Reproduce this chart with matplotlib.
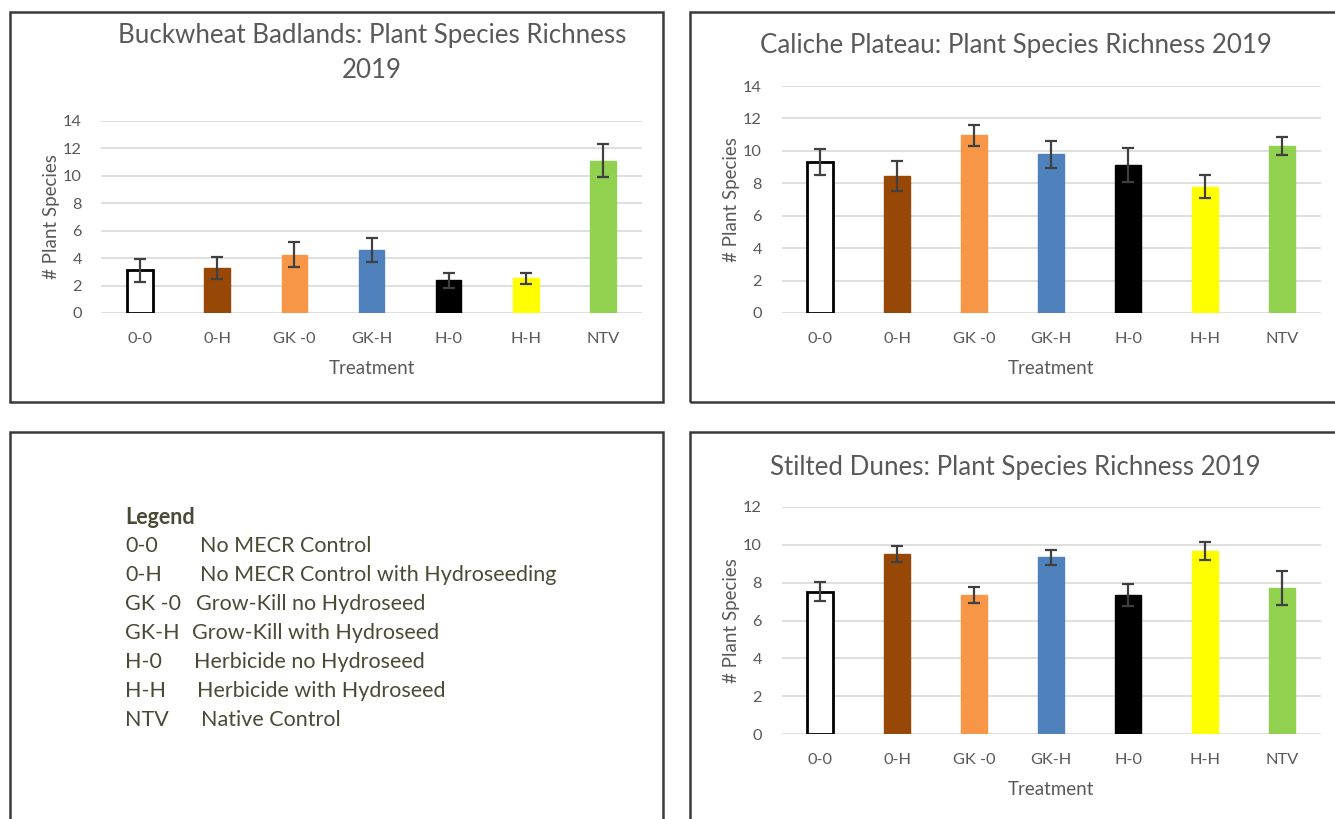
import matplotlib.pyplot as plt
from matplotlib.patches import Rectangle

plt.rcParams['font.family'] = ['Lato', 'DejaVu Sans']

treatments = ['0-0', '0-H', 'GK -0', 'GK-H', 'H-0', 'H-H', 'NTV']
bar_colors = ['white', '#974706', '#F79646', '#4F81BD', 'black', '#FFFF00', '#92D050']

# mean species richness and error per treatment
buckwheat_mean = [3.1, 3.25, 4.25, 4.6, 2.4, 2.55, 11.1]
buckwheat_err = [0.85, 0.8, 0.92, 0.9, 0.55, 0.4, 1.2]
caliche_mean = [9.3, 8.45, 10.95, 9.78, 9.1, 7.8, 10.3]
caliche_err = [0.8, 0.9, 0.63, 0.82, 1.05, 0.72, 0.57]
stilted_mean = [7.53, 9.5, 7.35, 9.35, 7.35, 9.68, 7.7]
stilted_err = [0.5, 0.42, 0.42, 0.39, 0.57, 0.47, 0.9]

legend_codes = ['0-0', '0-H', 'GK -0', 'GK-H', 'H-0', 'H-H', 'NTV']
legend_desc = ['No MECR Control', 'No MECR Control with Hydroseeding',
               'Grow-Kill no Hydroseed', 'Grow-Kill with Hydroseed',
               'Herbicide no Hydroseed', 'Herbicide with Hydroseed',
               'Native Control']

W, H = 1335, 819
fig = plt.figure(figsize=(W / 100, H / 100), dpi=100)

def px_box(x0, y0, x1, y1):
    fig.patches.append(Rectangle((x0 / W, 1 - y1 / H), (x1 - x0) / W, (y1 - y0) / H,
                                 transform=fig.transFigure, fill=False,
                                 edgecolor='#3a3a3a', linewidth=1.8))

# outer frames
px_box(10, 12, 663, 402)
px_box(690, 12, 1345, 402)
px_box(10, 432, 663, 830)
px_box(690, 432, 1345, 830)

gray = '#595959'

def panel(rect, means, errs, ymax, title, title_x, title_y):
    ax = fig.add_axes(rect)
    x = range(len(treatments))
    ax.bar(x, means, width=0.33, color=bar_colors, edgecolor=bar_colors, zorder=3)
    ax.bar([0], [means[0]], width=0.33, color='white', edgecolor='black', linewidth=2, zorder=3)
    ax.errorbar(x, means, yerr=errs, fmt='none', ecolor='#404040', elinewidth=1.6,
                capsize=4, capthick=1.6, zorder=4)
    ax.set_xlim(-0.5, 6.5)
    ax.set_ylim(0, ymax)
    ax.set_yticks(range(0, ymax + 1, 2))
    ax.set_xticks(list(x))
    ax.set_xticklabels(treatments)
    ax.grid(axis='y', color='#d9d9d9', linewidth=1.2, zorder=0)
    for s in ax.spines.values():
        s.set_visible(False)
    ax.tick_params(length=0, labelsize=11.8, colors=gray, pad=14)
    ax.tick_params(axis='y', pad=14)
    ax.set_xlabel('Treatment', fontsize=13.5, color=gray, labelpad=10)
    ax.set_ylabel('# Plant Species', fontsize=13.5, color=gray, labelpad=2)
    fig.text(title_x / W, title_y, title, ha='center', va='center',
             fontsize=18.6, color=gray, linespacing=1.5)
    return ax

panel([101.5 / W, 1 - 313 / H, 540 / W, 192 / H], buckwheat_mean, buckwheat_err, 14,
      'Buckwheat Badlands: Plant Species Richness\n2019', 372, 1 - 53 / H)
panel([781.5 / W, 1 - 313 / H, 539 / W, 227 / H], caliche_mean, caliche_err, 14,
      'Caliche Plateau: Plant Species Richness 2019', 1016, 1 - 46 / H)
panel([781.5 / W, 1 - 734 / H, 539 / W, 227 / H], stilted_mean, stilted_err, 12,
      'Stilted Dunes: Plant Species Richness 2019', 1015, 1 - 467 / H)

# legend panel
txt = '#4a4a36'
desc_x = [200, 200, 196, 192, 194, 197, 201]
fig.text(125 / W, 1 - 517 / H, 'Legend', fontsize=15.5, fontweight='bold', color=txt, va='center')
for i, (code, desc) in enumerate(zip(legend_codes, legend_desc)):
    y = 1 - (546 + 29 * i) / H
    fig.text(125 / W, y, code, fontsize=15.5, color=txt, va='center')
    fig.text(desc_x[i] / W, y, desc, fontsize=15.5, color=txt, va='center')

fig.savefig('out.png', dpi=100)
